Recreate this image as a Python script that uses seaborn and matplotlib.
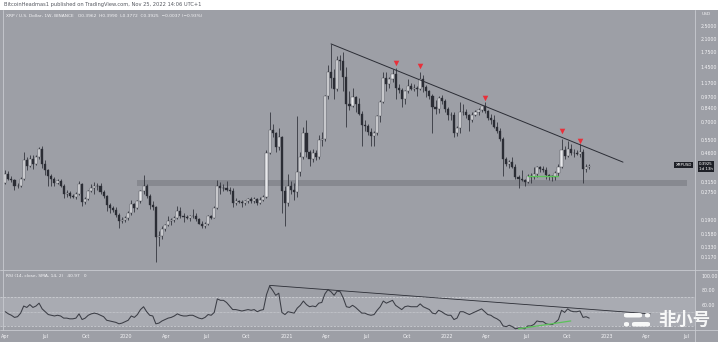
import numpy as np
import pandas as pd
import matplotlib
matplotlib.use("Agg")
import matplotlib.pyplot as plt
from matplotlib.patches import FancyBboxPatch, Rectangle
from matplotlib.lines import Line2D
import seaborn as sns

# ---------------- data ----------------
start_week = "2019-04-01"
n_weeks = 191

opens = [
 .310,.352,.330,.322,.298,.300,.330,.420,.390,.430,.400,.440,.490,.400,.370,.340,.330,.310,.320,.300,
 .270,.272,.262,.258,.268,.305,.242,.252,.280,.290,.300,.298,.276,.262,.232,.222,.218,.205,.188,.191,
 .197,.210,.235,.222,.245,.278,.300,.262,.232,.225,.152,.155,.170,.178,.188,.190,.197,.215,.202,.198,
 .196,.201,.200,.192,.181,.175,.180,.200,.196,.222,.300,.290,.292,.285,.278,.240,.245,.242,.238,.244,
 .252,.244,.252,.238,.250,.258,.460,.630,.600,.500,.570,.280,
 .240,.300,.285,.275,.360,.440,.600,.470,.430,.460,.440,.550,.560,.980,1.360,1.250,1.080,1.590,1.560,1.260,
 .890,.860,.970,.880,.780,.670,.660,.610,.580,.600,.750,.910,1.250,1.150,1.230,1.320,1.100,1.060,.940,1.050,
 1.120,1.080,1.090,1.080,1.240,1.110,1.050,.990,.850,.830,.960,.920,
 .830,.760,.770,.600,.640,.800,.800,.760,.720,.760,.800,.820,.860,.810,.740,.720,.650,.620,.560,.430,
 .400,.410,.385,.335,.330,.325,.315,.340,.335,.350,.385,.375,.370,.345,.340,.335,.355,.385,.480,.445,
 .490,.465,.460,.455,.470,.375,.385]
highs = [
 .370,.365,.340,.330,.310,.335,.470,.440,.450,.450,.450,.500,.510,.420,.375,.350,.335,.330,.330,.305,
 .285,.280,.270,.275,.320,.310,.260,.285,.305,.315,.310,.310,.285,.265,.240,.230,.225,.210,.198,.200,
 .215,.250,.240,.250,.285,.345,.305,.270,.245,.230,.165,.175,.182,.200,.195,.200,.228,.225,.210,.205,
 .205,.220,.208,.195,.188,.185,.205,.203,.230,.325,.315,.305,.320,.295,.290,.255,.250,.248,.248,.255,
 .258,.260,.256,.258,.265,.480,.800,.680,.610,.640,.580,.300,
 .350,.320,.310,.750,.470,.650,.720,.480,.490,.480,.590,.610,1.000,1.480,1.960,1.400,1.660,1.700,1.760,1.450,
 1.050,1.100,.980,.960,.810,.720,.680,.640,.620,.770,.930,1.350,1.350,1.270,1.410,1.420,1.160,1.090,1.070,1.230,
 1.170,1.150,1.130,1.350,1.300,1.140,1.070,1.010,.930,.980,1.000,.940,
 .850,.800,.800,.660,.910,.880,.830,.780,.800,.820,.840,.870,.910,.820,.780,.760,.700,.640,.570,.440,
 .420,.440,.400,.345,.370,.330,.350,.355,.385,.390,.390,.390,.385,.350,.345,.365,.400,.560,.510,.540,
 .520,.490,.480,.520,.490,.400,.400]
lows = [
 .305,.325,.315,.285,.290,.295,.325,.370,.385,.375,.395,.430,.380,.345,.300,.300,.300,.305,.295,.255,
 .260,.255,.255,.252,.265,.230,.235,.250,.275,.270,.285,.270,.255,.215,.210,.212,.198,.172,.184,.186,
 .190,.205,.212,.220,.240,.270,.255,.220,.218,.110,.135,.148,.165,.175,.178,.185,.192,.195,.185,.192,
 .188,.195,.188,.180,.172,.172,.178,.192,.195,.220,.270,.280,.280,.270,.225,.232,.238,.225,.232,.240,
 .240,.238,.232,.236,.245,.255,.455,.570,.470,.480,.210,.175,
 .230,.270,.250,.260,.340,.430,.440,.390,.410,.420,.430,.510,.545,.940,1.100,.950,1.050,1.380,1.050,.650,
 .820,.850,.800,.760,.510,.620,.590,.510,.510,.590,.700,.900,1.050,1.090,1.190,.950,1.030,.850,.890,1.030,
 1.070,1.050,.980,1.060,1.040,.970,.950,.600,.780,.790,.890,.800,
 .720,.720,.570,.580,.600,.770,.740,.620,.700,.750,.770,.800,.790,.720,.680,.640,.600,.540,.340,.390,
 .380,.380,.330,.290,.320,.300,.310,.310,.330,.335,.360,.360,.330,.325,.320,.325,.340,.380,.430,.440,
 .450,.440,.450,.440,.310,.360,.375]
closes = [
 .352,.330,.322,.298,.300,.330,.420,.390,.430,.400,.440,.490,.400,.370,.340,.330,.310,.320,.300,.270,
 .272,.262,.258,.268,.305,.242,.252,.280,.290,.300,.298,.276,.262,.232,.222,.218,.205,.188,.191,.197,
 .210,.235,.222,.245,.278,.300,.262,.232,.225,.152,.155,.170,.178,.188,.190,.197,.215,.202,.198,.196,
 .201,.200,.192,.181,.175,.180,.200,.196,.222,.300,.290,.292,.285,.278,.240,.245,.242,.238,.244,.252,
 .244,.252,.238,.250,.258,.460,.630,.600,.500,.570,.280,.240,
 .300,.285,.275,.360,.440,.600,.470,.430,.460,.440,.550,.560,.980,1.360,1.250,1.080,1.590,1.560,1.260,.890,
 .860,.970,.880,.780,.670,.660,.610,.580,.600,.750,.910,1.250,1.150,1.230,1.320,1.100,1.060,.940,1.050,1.120,
 1.080,1.090,1.080,1.240,1.110,1.050,.990,.850,.830,.960,.920,.830,
 .760,.770,.600,.640,.800,.800,.760,.720,.760,.800,.820,.860,.810,.740,.720,.650,.620,.560,.430,.400,
 .410,.385,.335,.330,.325,.315,.340,.335,.350,.385,.375,.370,.345,.340,.335,.355,.385,.480,.445,.490,
 .465,.460,.455,.470,.375,.385,.392]

rsi = [50,47,45,42,43,48,58,56,60,56,58,62,54,
       50,46,45,44,45,44,41,41,40,40,41,47,39,
       41,45,47,48,47,45,43,38,37,36,35,33,34,36,
       38,44,42,46,53,57,50,45,44,33,34,37,39,
       41,42,44,47,45,44,44,45,45,43,41,40,42,46,45,49,
       68,66,66,63,58,53,53,52,51,52,53,52,53,50,52,53,
       74,86,80,73,76,49,46,
       50,49,48,55,59,65,60,57,58,57,62,63,
       75,81,78,73,79,78,69,
       57,56,59,56,52,48,48,46,45,46,
       52,57,65,62,64,66,
       59,56,53,57,58,57,57,57,
       61,57,55,53,48,47,52,50,47,
       45,45,39,41,50,50,48,46,48,50,52,54,50,
       46,45,42,40,37,30,29,31,29,
       26,27,27,26,30,30,32,37,36,36,33,32,32,35,39,
       52,49,54,51,50,50,51,42,43,41]

# drawings
trend_dates = ["2021-04-12", "2023-02-06"]
trend_prices = [1.96, 0.41]
zone_dates = ["2020-01-26", "2023-07-02"]
zone_low, zone_high = 0.298, 0.324
green_dates = ["2022-07-05", "2022-09-11"]
green_prices = [0.341, 0.341]
top_dates = ["2021-09-06", "2021-11-01", "2022-03-28", "2022-09-19", "2022-10-31"]
top_prices = [1.52, 1.47, 0.96, 0.62, 0.54]
rsi_trend_dates = ["2020-11-23", "2023-04-09"]
rsi_trend_vals = [87, 47]
rsi_green_dates = ["2022-06-13", "2022-10-10"]
rsi_green_vals = [26, 37]

price_ticks = [2.5, 2.1, 1.75, 1.45, 1.17, 0.97, 0.84, 0.70, 0.55, 0.46,
               0.315, 0.275, 0.19, 0.158, 0.133, 0.117]
rsi_ticks = [100, 80, 60]
time_ticks = ["2019-04-01", "2019-07-01", "2019-10-01", "2020-01-01", "2020-04-01",
              "2020-07-01", "2020-10-01", "2021-01-01", "2021-04-01", "2021-07-01",
              "2021-10-01", "2022-01-01", "2022-04-01", "2022-07-01", "2022-10-01",
              "2023-01-01", "2023-04-01", "2023-07-01"]
time_labels = ["Apr", "Jul", "Oct", "2020", "Apr", "Jul", "Oct", "2021", "Apr", "Jul",
               "Oct", "2022", "Apr", "Jul", "Oct", "2023", "Apr", "Jul"]

# ---------------- styling ----------------
BG = "#9d9fa6"
DARK = "#2b2d35"
LIGHT = "#e8e9ec"
TXT = "#f4f4f6"
SEP = "#c9cbd0"

sns.set_theme(style="white")
plt.rcParams['font.family'] = ['DejaVu Sans', 'Noto Sans CJK SC']

W, H = 718, 342
fig = plt.figure(figsize=(W / 100, H / 100), dpi=100)
fig.patch.set_facecolor(BG)

def fax(x0, y0, x1, y1):
    return fig.add_axes([x0 / W, 1 - y1 / H, (x1 - x0) / W, (y1 - y0) / H])

df = pd.DataFrame({
    "date": pd.date_range(start_week, periods=n_weeks, freq="7D"),
    "open": opens, "high": highs, "low": lows, "close": closes, "rsi": rsi,
})
df["up"] = df["close"] >= df["open"]

xmin, xmax = pd.Timestamp("2019-03-20"), pd.Timestamp("2023-07-20")

# ---------------- main price panel ----------------
ax = fax(0, 10, 695, 268)
ax.set_facecolor(BG)
ax.set_yscale("log")
ax.set_xlim(xmin, xmax)
ax.set_ylim(0.101, 3.07)

zd = pd.to_datetime(zone_dates)
ax.fill_between(zd, [zone_low] * 2, [zone_high] * 2, color="#878990", lw=0, zorder=1)

ax.vlines(df["date"], df["low"], df["high"], color=DARK, lw=0.55, zorder=2)
for up, col in [(True, LIGHT), (False, DARK)]:
    d = df[df["up"] == up]
    bottom = np.minimum(d["open"], d["close"])
    height = np.abs(d["close"] - d["open"])
    ax.bar(d["date"], height, bottom=bottom, width=4.8, color=col,
           edgecolor=DARK, linewidth=0.25, zorder=3)

ax.plot(pd.to_datetime(trend_dates), trend_prices, color=DARK, lw=0.7, zorder=4)
ax.plot(pd.to_datetime(green_dates), green_prices, color="#5cc15a", lw=1.0, zorder=4)
sns.scatterplot(x=pd.to_datetime(top_dates), y=top_prices, ax=ax, marker="v",
                color="#e8303a", s=16, linewidth=0, zorder=5)

ax.yaxis.tick_right()
ax.set_yticks(price_ticks)
ax.set_yticklabels([f"{v:.4f}" for v in price_ticks])
ax.yaxis.set_minor_locator(matplotlib.ticker.NullLocator())
ax.tick_params(axis="y", length=0, pad=4, labelsize=3.4, labelcolor=TXT)
ax.set_xticks([])
for s in ax.spines.values():
    s.set_visible(False)

ax.text(0.008, 0.985, "XRP / U.S. Dollar, 1W, BINANCE   O0.3962  H0.3990  L0.3772  C0.3925  \u22120.0037 (\u22120.93%)",
        transform=ax.transAxes, fontsize=3.2, color=TXT, va="top", ha="left")

# price tag
fig.text(692 / W, 1 - 165 / H, "XRPUSD", fontsize=2.9, color="white", ha="right", va="center",
         bbox=dict(boxstyle="square,pad=0.3", fc="#1e2027", ec="none"))
fig.text(706 / W, 1 - 166.5 / H, "0.3925\n1d 13h", fontsize=2.9, color="white", ha="center",
         va="center", linespacing=1.1,
         bbox=dict(boxstyle="square,pad=0.3", fc="#1e2027", ec="none"))
fig.text(706 / W, 1 - 14 / H, "USD", fontsize=3.2, color=TXT, ha="center", va="center")

# ---------------- RSI panel ----------------
ax2 = fax(0, 270, 695, 330)
ax2.set_facecolor(BG)
ax2.set_xlim(xmin, xmax)
ax2.set_ylim(24.3, 108.6)
ax2.axhspan(30, 70, color="#a9abb2", lw=0, zorder=0)
for lv, ls in [(70, (0, (3, 2))), (50, (0, (1, 1))), (30, (0, (3, 2)))]:
    ax2.axhline(lv, color="#d4d6da", lw=0.5, ls=ls, zorder=1)
sns.lineplot(data=df, x="date", y="rsi", ax=ax2, color="#3b3d45", lw=0.75, zorder=3)
ax2.plot(pd.to_datetime(rsi_trend_dates), rsi_trend_vals, color=DARK, lw=0.6, zorder=4)
ax2.plot(pd.to_datetime(rsi_green_dates), rsi_green_vals, color="#5cc15a", lw=0.9, zorder=4)
ax2.set_xlabel("")
ax2.set_ylabel("")
ax2.yaxis.tick_right()
ax2.set_yticks(rsi_ticks)
ax2.set_yticklabels([f"{v:.2f}" for v in rsi_ticks])
ax2.tick_params(axis="y", length=0, pad=5, labelsize=3.4, labelcolor=TXT)
ax2.set_xticks(pd.to_datetime(time_ticks))
ax2.set_xticklabels(time_labels)
ax2.tick_params(axis="x", length=0, pad=3.2, labelsize=3.5, labelcolor=TXT)
for s in ax2.spines.values():
    s.set_visible(False)
ax2.text(0.008, 0.93, "RSI (14, close, SMA, 14, 2)   40.97   0", transform=ax2.transAxes,
         fontsize=3.2, color=TXT, va="top", ha="left")

# ---------------- frame lines / header ----------------
fig.add_artist(Rectangle((0, 1 - 10 / H), 1, 10 / H, transform=fig.transFigure,
                         color="white", lw=0, zorder=10))
fig.text(4 / W, 1 - 4.5 / H,
         "BitcoinHeadmas1 published on TradingView.com, Nov 25, 2022 14:06 UTC+1",
         fontsize=3.7, color="#555860", ha="left", va="center", zorder=11)
for (x0, y0, x1, y1) in [(695, 10, 695, 342), (0, 269.5, 718, 269.5), (0, 330, 718, 330),
                         (3, 10, 3, 330)]:
    fig.add_artist(Line2D([x0 / W, x1 / W], [1 - y0 / H, 1 - y1 / H],
                          transform=fig.transFigure, color=SEP, lw=0.6, zorder=9))

# ---------------- watermark ----------------
for (x, y, w, h) in [(624, 313, 18, 4.5), (645, 313, 5, 4.5),
                     (624, 322, 5, 4.5), (632, 322, 18, 4.5)]:
    fig.add_artist(FancyBboxPatch((x / W, 1 - (y + h) / H), w / W, h / H,
                                  boxstyle="round,pad=0,rounding_size=0.004",
                                  transform=fig.transFigure, fc="white", ec="none",
                                  alpha=0.92, zorder=12))
fig.text(684 / W, 1 - 320 / H, "非小号", fontsize=12.5, color="white", alpha=0.92,
         ha="center", va="center", family=["Noto Sans CJK SC", "DejaVu Sans"],
         fontweight="bold", zorder=12)

fig.savefig("out.png", dpi=100, facecolor=BG)
